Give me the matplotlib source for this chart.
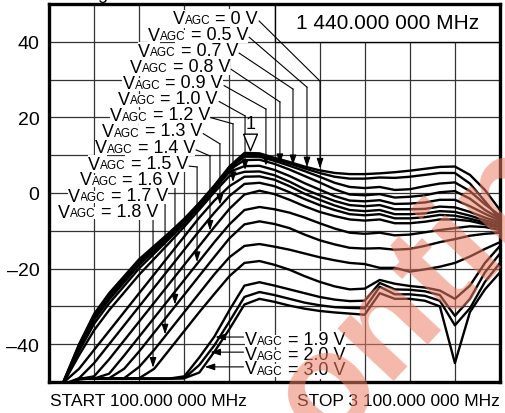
import numpy as np
import matplotlib
matplotlib.use("Agg")
import matplotlib.pyplot as plt
from matplotlib.patches import Rectangle
from matplotlib.transforms import IdentityTransform

plt.rcParams['font.family'] = ['Liberation Sans', 'DejaVu Sans']

# frequency grid (MHz)
freq = [100, 200, 300, 400, 500, 600, 700, 800, 900, 1000,
        1100, 1200, 1300, 1400, 1500, 1600, 1700, 1800, 1900, 2000,
        2100, 2200, 2300, 2400, 2500, 2600, 2700, 2800, 2900, 3000, 3100]

g_0v0 = [-58, -49.5, -40, -32, -26.5, -22, -17.5, -14, -10.5, -6.8, -2.6, 2.0, 7.0, 10.6, 10.5,
         9.3, 8.2, 7.0, 6.0, 5.3, 5.0, 5.0, 5.2, 5.5, 5.9, 6.4, 6.9, 7.0, 4.8, 0.8, -4.5]
g_0v5 = [-58, -49.6, -40.3, -32.5, -27.0, -22.5, -18.0, -14.4, -10.8, -7.0, -2.8, 1.8, 6.7, 10.2, 10.1,
         9.0, 7.8, 6.5, 5.3, 4.3, 3.8, 3.8, 4.1, 4.0, 4.3, 4.8, 5.3, 5.3, 2.5, -2.2, -7.0]
g_0v7 = [-58, -49.7, -40.7, -33.0, -27.5, -23.0, -18.4, -14.8, -11.1, -7.3, -3.0, 1.6, 6.5, 9.6, 9.6,
         8.5, 7.2, 5.8, 4.3, 2.7, 1.6, 1.3, 1.6, 0.8, 1.0, 1.8, 2.5, 2.8, 0.5, -3.0, -6.0]
g_0v8 = [-58, -49.8, -41.1, -33.6, -28.2, -23.6, -19.0, -15.3, -11.5, -7.6, -3.3, 1.3, 6.1, 8.7, 8.8,
         7.7, 6.2, 4.5, 2.8, 1.0, -0.4, -0.6, -0.3, -1.2, -1.0, -0.6, 0.2, 0.5, -1.5, -4.5, -6.8]
g_0v9 = [-58, -49.9, -41.8, -34.6, -29.2, -24.6, -19.9, -16.0, -12.1, -8.1, -3.7, 0.9, 5.6, 7.1, 7.2,
         6.1, 4.5, 2.6, 0.9, -0.8, -2.0, -2.2, -1.9, -2.9, -2.8, -2.5, -1.8, -1.8, -3.5, -5.5, -7.3]
g_1v0 = [-58, -50.0, -42.9, -36.3, -31.0, -26.3, -21.6, -17.4, -13.2, -8.9, -4.4, 0.2, 4.5, 5.6, 5.7,
         4.7, 3.0, 1.0, -0.6, -2.1, -3.2, -3.5, -3.2, -4.3, -4.3, -4.2, -3.6, -3.8, -5.0, -6.5, -7.8]
g_1v2 = [-58, -50.0, -46.5, -41.5, -36.5, -31.5, -26.5, -21.5, -16.5, -11.5, -6.5, -2.0, 1.8, 4.3, 4.4,
         3.5, 1.8, -0.2, -1.8, -3.3, -4.5, -4.8, -4.5, -5.6, -5.6, -5.4, -4.8, -5.0, -6.0, -7.2, -8.3]
g_1v3 = [-58, -50.5, -49.0, -45.0, -40.0, -35.0, -30.0, -25.0, -20.0, -15.0, -10.0, -5.2, -0.8, 2.4, 2.7,
         1.8, 0.2, -1.6, -3.2, -4.5, -5.6, -5.9, -5.6, -6.7, -6.7, -6.4, -5.8, -6.0, -6.8, -7.8, -8.8]
g_1v4 = [-58, -51, -49.2, -48.5, -44.0, -39.0, -34.0, -29.0, -24.0, -19.0, -14.0, -9.0, -4.2, -0.4, 0.6,
         -0.3, -1.8, -3.5, -5.0, -6.1, -7.0, -7.3, -7.0, -8.0, -8.0, -7.6, -7.0, -7.0, -7.4, -8.3, -9.3]
g_1v5 = [-58, -51, -49.2, -49.1, -47.8, -43.0, -38.0, -33.0, -28.0, -23.0, -18.0, -13.0, -8.3, -4.5, -3.7,
         -4.3, -5.2, -6.5, -8.0, -9.4, -10.5, -10.8, -10.5, -11.2, -11.0, -10.4, -9.8, -9.3, -8.8, -9.0, -9.8]
g_1v6 = [-58, -51, -49.2, -49.1, -49.0, -46.5, -41.9, -36.9, -31.9, -26.9, -21.9, -16.9, -12.0, -8.3, -7.5,
         -8.2, -9.3, -11.0, -12.5, -13.6, -14.5, -14.7, -14.6, -15.0, -14.8, -14.0, -13.0, -12.2, -11.3, -10.8, -10.5]
g_1v7 = [-58, -51, -49.2, -49.1, -49.1, -49.0, -46.0, -41.5, -36.5, -31.5, -26.5, -21.5, -17.0, -14.0, -13.5,
         -14.2, -15.0, -16.0, -17.0, -17.8, -18.5, -18.8, -19.8, -19.8, -20.8, -20.2, -19.5, -18.5, -16.8, -14.8, -13.0]
g_1v8 = [-58, -51, -49.2, -49.1, -49.1, -49.1, -49.0, -46.5, -41.5, -36.5, -31.5, -26.7, -22.0, -18.5, -18.0,
         -19.0, -20.3, -22.0, -23.5, -24.7, -25.5, -25.3, -23.0, -24.0, -24.6, -25.0, -25.8, -28.0, -24.5, -18.5, -14.0]
g_1v9 = [-58, -51, -49.2, -49.1, -49.1, -49.1, -49.1, -49.1, -49.1, -48.5, -43.5, -38.0, -31.0, -24.5, -23.6,
         -24.5, -25.5, -26.5, -27.5, -28.2, -28.6, -28.5, -23.8, -25.5, -25.6, -26.0, -27.0, -32.5, -28.0, -21.0, -16.0]
g_2v0 = [-58, -51, -49.2, -49.1, -49.1, -49.1, -49.1, -49.1, -49.1, -49.0, -45.5, -40.3, -34.0, -27.5, -26.2,
         -27.0, -28.0, -29.0, -29.7, -30.2, -30.4, -30.5, -24.8, -26.8, -26.8, -27.2, -28.5, -35.0, -30.5, -23.5, -18.5]
g_3v0 = [-58, -51, -49.2, -49.1, -49.1, -49.1, -49.1, -49.1, -49.1, -49.0, -47.5, -42.0, -36.0, -29.5, -28.0,
         -28.8, -29.8, -30.6, -31.2, -31.6, -31.9, -32.2, -26.5, -28.0, -28.0, -28.5, -30.0, -45.0, -31.5, -25.5, -21.0]

upper_volts = ['0', '0.5', '0.7', '0.8', '0.9', '1.0', '1.2', '1.3', '1.4', '1.5', '1.6', '1.7', '1.8']
lower_volts = ['1.9', '2.0', '3.0']
upper_traces = [g_0v0, g_0v5, g_0v7, g_0v8, g_0v9, g_1v0, g_1v2, g_1v3, g_1v4, g_1v5, g_1v6, g_1v7, g_1v8]
lower_traces = [g_1v9, g_2v0, g_3v0]

marker_freq = 1440
marker_text = '1 440.000 000 MHz'
start_text = 'START 100.000 000 MHz'
stop_text = 'STOP 3 100.000 000 MHz'

# label placement (layout only)
lab_x = [1490, 1424, 1357, 1304, 1257, 1224, 1171, 1118, 1071, 1025, 971, 892, 825]
lab_y = [46.8, 42.5, 38.3, 34.0, 29.7, 25.5, 21.2, 17.0, 12.7, 8.4, 4.2, -0.1, -4.3]
lead_x = [1903, 1816, 1723, 1636, 1543, 1404, 1324, 1237, 1171, 1085, 938, 872, 792]
bend_y = [29.6, 28.0, 27.5, 24.1, 22.2, 20.4, 18.3, 13.0, 9.8, 6.9, None, None, None]
low_lab_x = 1404
low_lab_y = [-38.1, -42.1, -46.0]

FS = 13      # label size
FS_SUB = 8.5  # the small "AGC"
DESC = 0.21  # font descent, fraction of size


def agc_label(ax, x, y, volts, right):
    # V + small AGC + " = x V", all sitting on one baseline
    box = dict(boxstyle='square,pad=0.02', fc='white', ec='none')
    base = y - 1.75
    if right:
        t3 = ax.text(x, base, ' = %s V' % volts, ha='right', va='baseline', fontsize=FS,
                     bbox=box, zorder=5)
        t2 = ax.annotate('AGC', xy=(0, 0), xycoords=t3, xytext=(0, FS * DESC),
                         textcoords='offset points', ha='right', va='baseline',
                         fontsize=FS_SUB, bbox=box, zorder=5)
        ax.annotate('V', xy=(0, 0), xycoords=t2, xytext=(0, FS_SUB * DESC),
                    textcoords='offset points', ha='right', va='baseline',
                    fontsize=FS, bbox=box, zorder=5)
    else:
        t1 = ax.text(x, base, 'V', ha='left', va='baseline', fontsize=FS, bbox=box, zorder=5)
        t2 = ax.annotate('AGC', xy=(1, 0), xycoords=t1, xytext=(0, FS * DESC),
                         textcoords='offset points', ha='left', va='baseline',
                         fontsize=FS_SUB, bbox=box, zorder=5)
        ax.annotate(' = %s V' % volts, xy=(1, 0), xycoords=t2, xytext=(0, FS_SUB * DESC),
                    textcoords='offset points', ha='left', va='baseline',
                    fontsize=FS, bbox=box, zorder=5)


fig = plt.figure(figsize=(5.05, 4.14), dpi=100)
ax = fig.add_axes([49 / 505, 31 / 414, 451 / 505, 378 / 414])
ax.set_xlim(100, 3100)
ax.set_ylim(-50, 50)
ax.set_xticks(range(400, 3100, 300))
ax.set_xticklabels([])
yt = list(range(-40, 41, 10))
ax.set_yticks(yt)
ax.set_yticklabels([('%d' % v).replace('-', '\u2013') if v % 20 == 0 else '' for v in yt])
ax.tick_params(length=0, labelsize=14, pad=7)
ax.grid(color='#333333', lw=0.9)
for s in ax.spines.values():
    s.set_linewidth(2.4)

for tr in upper_traces + lower_traces:
    ax.plot(freq, tr, color='k', lw=1.7, zorder=3, solid_joinstyle='round')

# readout box in the top right
ax.add_patch(Rectangle((1600, 40), 1500, 10, fc='white', ec='k', lw=1.0, zorder=2))
ax.text(2350, 45, marker_text, ha='center', va='center', fontsize=15, zorder=6)

# marker 1
peak = np.interp(marker_freq, freq, g_0v0)
tri = [(-1, 1.2), (1, 1.2), (0, -1.2), (-1, 1.2)]
ax.plot([marker_freq], [peak + 3.0], marker=tri, ms=12, mfc='white', mec='k', mew=1.0,
        ls='none', zorder=6)
ax.text(marker_freq, peak + 7.8, '1', ha='center', va='center', fontsize=13, zorder=6)

arrow_kw = dict(arrowstyle='-|>,head_length=0.6,head_width=0.2', color='k', lw=0.8,
                shrinkA=0, shrinkB=0, mutation_scale=10)

for i, v in enumerate(upper_volts):
    agc_label(ax, lab_x[i], lab_y[i], v, right=True)
    tip = np.interp(lead_x[i], freq, upper_traces[i]) + 0.5
    if bend_y[i] is not None:
        ax.plot([lab_x[i] + 8, lead_x[i]], [lab_y[i] - 1.3, bend_y[i]], color='k', lw=0.8, zorder=4)
        top = bend_y[i]
    else:
        top = lab_y[i] - 1.5
    ax.annotate('', xy=(lead_x[i], tip), xytext=(lead_x[i], top), arrowprops=arrow_kw, zorder=4)

fr = np.array(freq)
for i, v in enumerate(lower_volts):
    agc_label(ax, low_lab_x, low_lab_y[i], v, right=False)
    tr = np.array(lower_traces[i])
    rise = (fr >= 1000) & (fr <= 1400)
    xt = np.interp(low_lab_y[i], tr[rise], fr[rise]) + 8
    ax.annotate('', xy=(xt, low_lab_y[i]), xytext=(low_lab_x - 10, low_lab_y[i]),
                arrowprops=arrow_kw, zorder=4)

fig.text(50 / 505, 12 / 414, start_text, fontsize=12.5, ha='left', va='center')
fig.text(500 / 505, 12 / 414, stop_text, fontsize=12.5, ha='right', va='center')
fig.text(97 / 505, 415 / 414, 'g', fontsize=13, ha='left', va='baseline')

# faint watermark crossing the lower right corner
fig.text(116, -254, 'Discontinued', transform=IdentityTransform(), rotation=47,
         rotation_mode='anchor', ha='left', va='baseline', fontsize=104, weight='bold',
         color='#ec7f66', alpha=0.55, zorder=10)

fig.savefig('out.png', dpi=100)
